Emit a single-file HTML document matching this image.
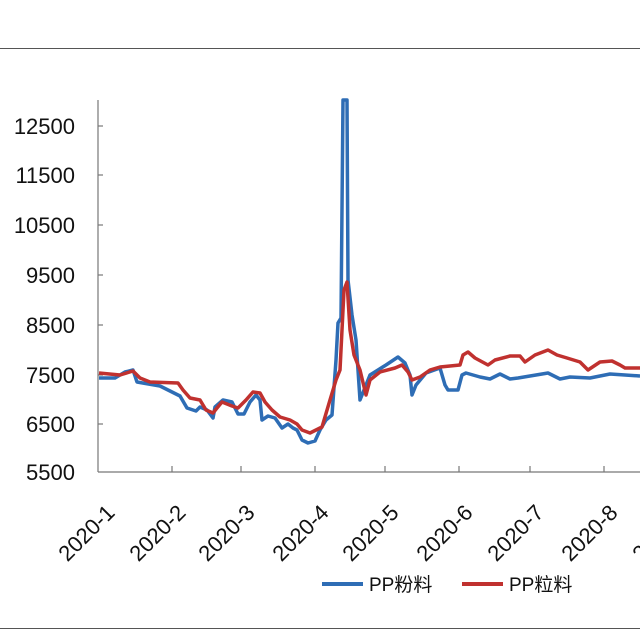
<!DOCTYPE html>
<html><head><meta charset="utf-8"><style>
html,body{margin:0;padding:0;background:#fff;}
svg{display:block;font-family:"Liberation Sans","Noto Sans CJK SC",sans-serif;}
</style></head><body>
<svg width="640" height="640" viewBox="0 0 640 640" xmlns="http://www.w3.org/2000/svg">
<rect width="640" height="640" fill="#fff"/>
<line x1="0" y1="48.5" x2="640" y2="48.5" stroke="#555" stroke-width="1"/>
<line x1="0" y1="628.5" x2="640" y2="628.5" stroke="#555" stroke-width="1"/>
<g stroke="#777" stroke-width="1.2">
<line x1="98" y1="100" x2="98" y2="472"/>
<line x1="98" y1="472" x2="640" y2="472"/>
<line x1="98" y1="126" x2="103" y2="126"/><line x1="98" y1="175" x2="103" y2="175"/>
<line x1="98" y1="225" x2="103" y2="225"/><line x1="98" y1="275" x2="103" y2="275"/>
<line x1="98" y1="325" x2="103" y2="325"/><line x1="98" y1="375" x2="103" y2="375"/>
<line x1="98" y1="424" x2="103" y2="424"/>
<line x1="172" y1="466" x2="172" y2="472"/><line x1="241" y1="466" x2="241" y2="472"/>
<line x1="315" y1="466" x2="315" y2="472"/><line x1="385" y1="466" x2="385" y2="472"/>
<line x1="459" y1="466" x2="459" y2="472"/><line x1="530" y1="466" x2="530" y2="472"/>
<line x1="604" y1="466" x2="604" y2="472"/>
</g>
<g font-size="22" fill="#111" text-anchor="end">
<text x="75" y="134">12500</text><text x="75" y="183">11500</text>
<text x="75" y="233">10500</text><text x="75" y="283">9500</text>
<text x="75" y="333">8500</text><text x="75" y="383">7500</text>
<text x="75" y="432">6500</text><text x="75" y="480">5500</text>
</g>
<g font-size="22" fill="#111" text-anchor="end">
<text transform="translate(116,514) rotate(-45)">2020-1</text>
<text transform="translate(187,514) rotate(-45)">2020-2</text>
<text transform="translate(256,514) rotate(-45)">2020-3</text>
<text transform="translate(330,514) rotate(-45)">2020-4</text>
<text transform="translate(400,514) rotate(-45)">2020-5</text>
<text transform="translate(474,514) rotate(-45)">2020-6</text>
<text transform="translate(545,514) rotate(-45)">2020-7</text>
<text transform="translate(619,514) rotate(-45)">2020-8</text>
<text transform="translate(690,514) rotate(-45)">2020-9</text>
</g>
<polyline fill="none" stroke="#2e6db5" stroke-width="3.5" stroke-linejoin="round" points="99,378 115,378 125,372 133,370 137,382 160,386 180,396 187,408 196,411 200,407 207,410 213,418 215,407 223,400 232,402 238,414 244,414 250,402 256,395 260,400 262,420 268,416 275,418 282,428 288,424 293,428 297,430 302,440 308,443 315,441 320,430 326,420 332,415 336,360 338,323 341,318 343,100 347,100 348,280 352,315 356,340 360,400 364,390 370,375 378,370 386,365 398,357 405,363 410,375 412,395 416,385 426,373 440,368 445,385 448,390 458,390 462,375 466,373 480,377 490,379 500,374 510,379 518,378 530,376 548,373 560,379 570,377 590,378 610,374 625,375 640,376"/>
<polyline fill="none" stroke="#c0312f" stroke-width="3.5" stroke-linejoin="round" points="99,373 120,375 133,371 140,378 150,382 178,383 183,390 190,398 200,400 206,410 213,413 217,408 222,402 232,406 238,408 246,400 253,392 260,393 265,402 272,410 280,417 290,420 297,424 302,430 310,433 316,430 322,427 330,400 336,380 340,370 344,290 347,282 350,330 354,355 360,370 366,395 370,380 380,372 395,368 402,365 408,372 412,380 420,377 430,370 440,367 460,365 463,355 468,352 475,358 488,365 495,360 510,356 520,356 525,362 535,355 548,350 557,355 567,358 580,362 588,370 600,362 612,361 620,365 625,368 640,368"/>
<line x1="322" y1="584" x2="363" y2="584" stroke="#2e6db5" stroke-width="4"/>
<text x="369" y="591" font-size="19" fill="#111">PP粉料</text>
<line x1="462" y1="584" x2="503" y2="584" stroke="#c0312f" stroke-width="4"/>
<text x="509" y="591" font-size="19" fill="#111">PP粒料</text>
</svg>
</body></html>
